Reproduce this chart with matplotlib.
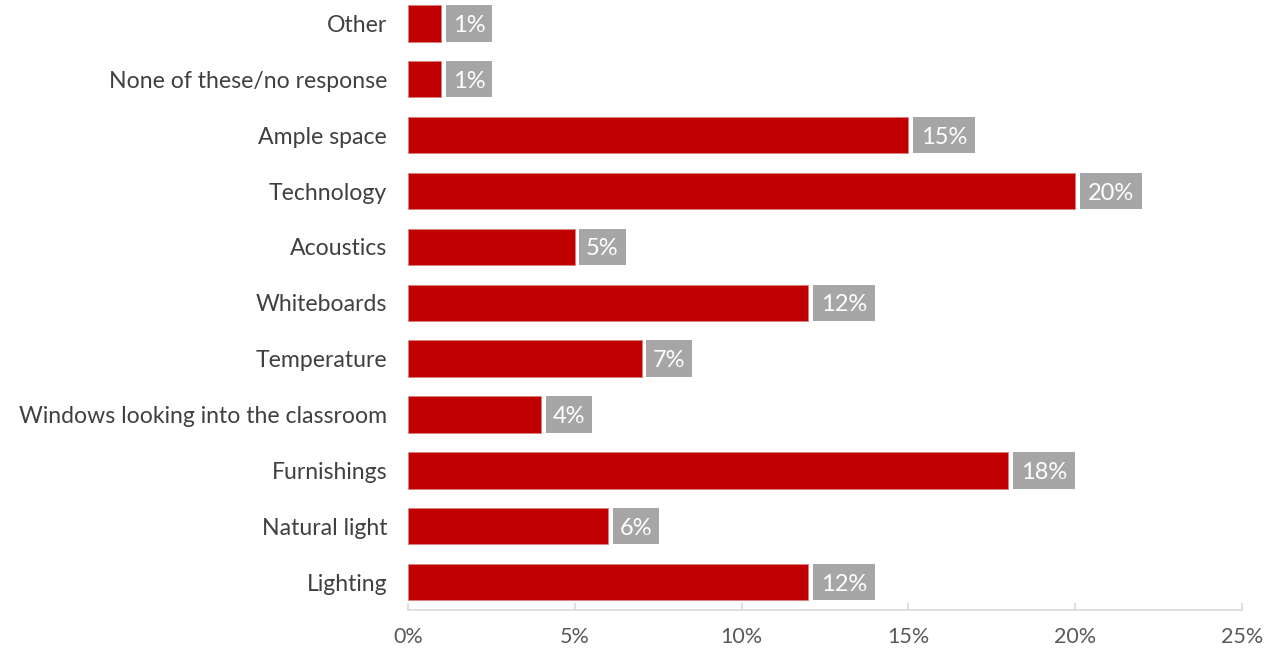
import matplotlib.pyplot as plt
from matplotlib.ticker import FuncFormatter

plt.rcParams['font.family'] = ['Lato', 'DejaVu Sans']

categories = ['Lighting', 'Natural light', 'Furnishings', 'Windows looking into the classroom',
              'Temperature', 'Whiteboards', 'Acoustics', 'Technology', 'Ample space',
              'None of these/no response', 'Other']
values = [12, 6, 18, 4, 7, 12, 5, 20, 15, 1, 1]
ticks = [0, 5, 10, 15, 20, 25]

red = '#C00000'
box_gray = '#A6A6A6'

fig = plt.figure(figsize=(12.88, 6.54), dpi=100)
ax = fig.add_axes([408 / 1288, 44 / 654, 834 / 1288, 610 / 654])

ypos = list(range(len(categories)))
bar_h = 0.65
ax.barh(ypos, values, height=bar_h, color=red, edgecolor='#D98080', linewidth=0.6)

# gray label boxes next to each bar, width depends on label length
labels = [f'{v}%' for v in values]
gap = 0.14
box_w = [0.9 + 0.48 * (len(s) - 1) for s in labels]
box_left = [v + gap for v in values]
ax.barh(ypos, box_w, left=box_left, height=bar_h, color=box_gray)
for y, l, w, s in zip(ypos, box_left, box_w, labels):
    ax.text(l + w / 2, y, s, ha='center', va='center_baseline', fontsize=17, color='white')

ax.set_xlim(0, 25)
ax.set_ylim(-0.5, 10.42)
ax.set_xticks(ticks)
ax.xaxis.set_major_formatter(FuncFormatter(lambda x, p: f'{x:.0f}%'))
ax.set_yticks(ypos)
ax.set_yticklabels(categories)

for s in ['top', 'right', 'left']:
    ax.spines[s].set_visible(False)
ax.spines['bottom'].set_color('#D9D9D9')
ax.spines['bottom'].set_linewidth(1.2)
ax.tick_params(axis='x', direction='in', length=5, color='#D9D9D9', width=1.2,
               labelsize=15.5, labelcolor='#595959', pad=12)
ax.tick_params(axis='y', length=0, labelsize=16.6, labelcolor='#404040', pad=15)

fig.savefig('out.png', dpi=100)
